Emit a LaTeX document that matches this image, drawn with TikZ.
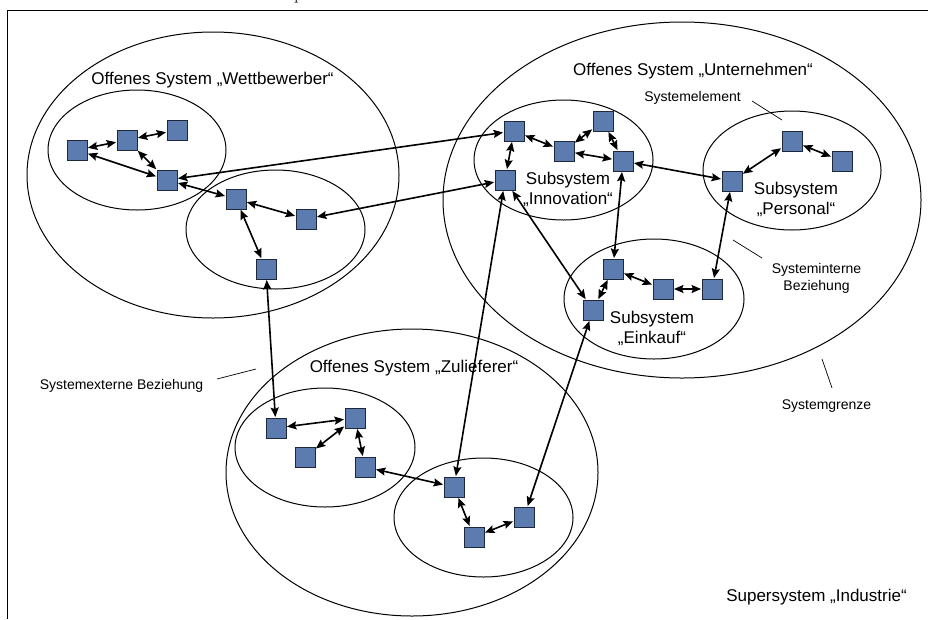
\documentclass[tikz,border=0pt]{standalone}
\usepackage{fontspec}
\newfontfamily\arial{Liberation Sans}
\usetikzlibrary{arrows.meta}
\definecolor{sqfill}{RGB}{92,123,175}
\definecolor{sqborder}{RGB}{30,40,60}
\tikzset{
  sq/.style={draw=sqborder, fill=sqfill, minimum size=20pt, inner sep=0pt, line width=0.9pt},
  conn/.style={{Stealth[length=9.5pt,width=8pt,inset=1.5pt]}-{Stealth[length=9.5pt,width=8pt,inset=1.5pt]}, line width=1.6pt, shorten <=0.5pt, shorten >=0.5pt},
  sysell/.style={line width=1pt},
  lead/.style={line width=0.7pt},
  big/.style={font=\arial\fontsize{17}{20}\selectfont, inner sep=0pt, anchor=base, align=center},
  small/.style={font=\arial\fontsize{14}{17}\selectfont, inner sep=0pt, anchor=base, align=center}
}
\begin{document}
\begin{tikzpicture}[x=1pt,y=-1pt]
\useasboundingbox (0,0) rectangle (928,619);
\clip (0,0) rectangle (928,619);
\fill[white] (0,0) rectangle (928,619);
% cut-off glyph at top
\node[font=\fontsize{18}{18}\selectfont, inner sep=0pt, anchor=base west] (cut) at (294,-0.5) {p};
% frame
\draw[line width=1pt] (7.5,619) -- (7.5,10.5) -- (928,10.5);
% system boundaries
\draw[sysell] (213,175) ellipse [x radius=186pt, y radius=143pt];
\draw[sysell] (137,150) ellipse [x radius=89pt, y radius=60pt];
\draw[sysell] (275.5,229.5) ellipse [x radius=89.5pt, y radius=59.5pt];
\draw[sysell] (682,200) ellipse [x radius=239pt, y radius=178pt];
\draw[sysell] (563.5,160) ellipse [x radius=89.5pt, y radius=60pt];
\draw[sysell] (792,170.5) ellipse [x radius=89pt, y radius=59.5pt];
\draw[sysell] (654,299) ellipse [x radius=90pt, y radius=60pt];
\draw[sysell] (412,472.5) ellipse [x radius=186pt, y radius=143.5pt];
\draw[sysell] (325,447.5) ellipse [x radius=90pt, y radius=59.5pt];
\draw[sysell] (483.5,517.5) ellipse [x radius=89.5pt, y radius=59.5pt];
% elements
\node[sq] (W1) at (77,150) {};
\node[sq] (W2) at (127,140) {};
\node[sq] (W3) at (177,130) {};
\node[sq] (W4) at (167,180) {};
\node[sq] (W5) at (236,199) {};
\node[sq] (W6) at (306,219) {};
\node[sq] (W7) at (266,269) {};
\node[sq] (I1) at (514,131) {};
\node[sq] (I2) at (564,151) {};
\node[sq] (I3) at (603,121) {};
\node[sq] (I4) at (623,161) {};
\node[sq] (I5) at (505,180) {};
\node[sq] (P1) at (732,181) {};
\node[sq] (P2) at (792,141) {};
\node[sq] (P3) at (842,161) {};
\node[sq] (E1) at (613,269) {};
\node[sq] (E2) at (663,289) {};
\node[sq] (E3) at (712,289) {};
\node[sq] (E4) at (593,310) {};
\node[sq] (Z1) at (276,428) {};
\node[sq] (Z2) at (355,418) {};
\node[sq] (Z3) at (305,457) {};
\node[sq] (Z4) at (365,467) {};
\node[sq] (Z5) at (454,487) {};
\node[sq] (Z6) at (474,537) {};
\node[sq] (Z7) at (524,517) {};
% relations
\draw[conn] (W1) -- (W2);
\draw[conn] (W2) -- (W3);
\draw[conn] (W1) -- (W4);
\draw[conn] (W2) -- (W4);
\draw[conn] (W4) -- (W5);
\draw[conn] (W5) -- (W6);
\draw[conn] (W5) -- (W7);
\draw[conn] (I1) -- (W4);
\draw[conn] (I5) -- (W6);
\draw[conn] (W7) -- (Z1);
\draw[conn] (I1) -- (I2);
\draw[conn] (I1) -- (I5);
\draw[conn] (I2) -- (I3);
\draw[conn] (I3) -- (I4);
\draw[conn] (I2) -- (I4);
\draw[conn] (I4) -- (P1);
\draw[conn] (P1) -- (P2);
\draw[conn] (P2) -- (P3);
\draw[conn] (I4) -- (E1);
\draw[conn] (P1) -- (E3);
\draw[conn] (E1) -- (E2);
\draw[conn] (E2) -- (E3);
\draw[conn] (E1) -- (E4);
\draw[conn] (I5) -- (E4);
\draw[conn] (I5) -- (Z5);
\draw[conn] (E4) -- (Z7);
\draw[conn] (Z1) -- (Z2);
\draw[conn] (Z2) -- (Z3);
\draw[conn] (Z2) -- (Z4);
\draw[conn] (Z4) -- (Z5);
\draw[conn] (Z5) -- (Z6);
\draw[conn] (Z6) -- (Z7);
% labels
\node[big] (tW) at (212.5,84.5) {Offenes System „Wettbewerber“};
\node[big] (tU) at (693,75) {Offenes System „Unternehmen“};
\node[big] (tZ) at (414,372) {Offenes System „Zulieferer“};
\node[big] (tI) at (568,204) {Subsystem\\„Innovation“};
\node[big] (tP) at (796,214) {Subsystem\\„Personal“};
\node[big] (tE) at (652,343) {Subsystem\\„Einkauf“};
\node[big] (tS) at (816.5,601) {Supersystem „Industrie“};
\node[small] (lEl) at (692.5,101) {Systemelement};
\node[small] (lIn) at (816.5,290) {Systeminterne\\Beziehung};
\node[small] (lEx) at (121.5,389) {Systemexterne Beziehung};
\node[small] (lGr) at (826.5,409) {Systemgrenze};
% leader lines
\coordinate (a1) at (752,101); \coordinate (a2) at (782,120);
\coordinate (b1) at (762,258); \coordinate (b2) at (733,240);
\coordinate (c1) at (217,379); \coordinate (c2) at (256,369);
\coordinate (d1) at (832,388); \coordinate (d2) at (822,359);
\draw[lead] (a1) -- (a2);
\draw[lead] (b1) -- (b2);
\draw[lead] (c1) -- (c2);
\draw[lead] (d1) -- (d2);
\end{tikzpicture}
\end{document}
